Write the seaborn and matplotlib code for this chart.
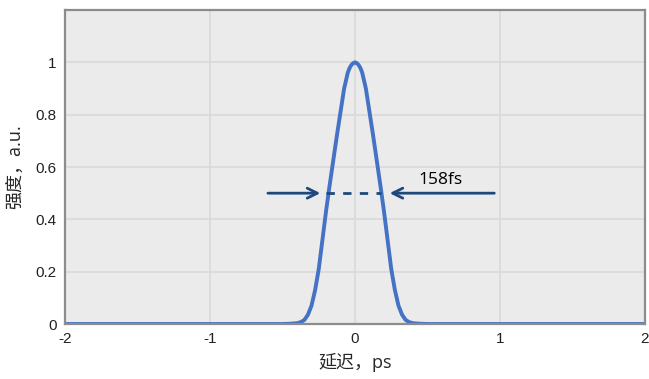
import numpy as np
import pandas as pd
import matplotlib.pyplot as plt
import seaborn as sns

# delay (ps) and normalised intensity (symmetric about 0)
half_delay = [0.0, 0.0125, 0.025, 0.0375, 0.05, 0.075, 0.1, 0.125, 0.15, 0.175, 0.2, 0.225,
              0.25, 0.275, 0.3, 0.325, 0.35, 0.375, 0.4, 0.45, 0.5, 1.0, 2.0]
half_intensity = [1.0, 0.997, 0.99, 0.978, 0.96, 0.90, 0.81, 0.72, 0.625, 0.53, 0.43, 0.32,
                  0.21, 0.13, 0.07, 0.035, 0.015, 0.007, 0.003, 0.001, 0.0, 0.0, 0.0]

delay = [-d for d in half_delay[:0:-1]] + half_delay
intensity = half_intensity[:0:-1] + half_intensity
df = pd.DataFrame({'delay': delay, 'intensity': intensity})

fwhm_label = '158fs'
fwhm_left, fwhm_right = -0.2, 0.18

x_ticks = [-2, -1, 0, 1, 2]
x_tick_labels = ['-2', '-1', '0', '1', '2']
y_ticks = [0, 0.2, 0.4, 0.6, 0.8, 1.0]
y_tick_labels = ['0', '0.2', '0.4', '0.6', '0.8', '1']

sns.set_theme(style="whitegrid")
plt.rcParams['font.family'] = ['Open Sans', 'Noto Sans CJK SC', 'DejaVu Sans']

fig = plt.figure(figsize=(6.49, 3.79), dpi=100)
ax = fig.add_axes([0.1002, 0.1451, 0.8936, 0.8285])
ax.set_facecolor('#ebebeb')

sns.lineplot(data=df, x='delay', y='intensity', ax=ax, color='#4472c4', linewidth=2.8)

# FWHM markers
arrow_kw = dict(arrowstyle='->', color='#1f497d', lw=2, mutation_scale=18)
ax.annotate('', xy=(fwhm_left - 0.02, 0.5), xytext=(-0.62, 0.5), arrowprops=arrow_kw)
ax.annotate('', xy=(fwhm_right + 0.04, 0.5), xytext=(0.98, 0.5), arrowprops=arrow_kw)
ax.plot([fwhm_left, fwhm_right], [0.5, 0.5], color='#1f497d', lw=2, ls=(0, (3, 3)))
ax.text(0.59, 0.55, fwhm_label, fontsize=12.5, ha='center', va='center', color='black')

ax.set_xlim(-2, 2)
ax.set_ylim(0, 1.2)
ax.tick_params(length=0, pad=6)
ax.set_xticks(x_ticks)
ax.set_xticklabels(x_tick_labels, fontsize=11, color='#222222', family='Liberation Sans')
ax.set_yticks(y_ticks)
ax.set_yticklabels(y_tick_labels, fontsize=11, color='#222222', family='Liberation Sans')
ax.grid(True, color='#d9d9d9', linewidth=1.2)
ax.set_xlabel('延迟，ps', fontsize=13, labelpad=5)
ax.set_ylabel('强度，a.u.', fontsize=13, labelpad=8)
for s in ax.spines.values():
    s.set_color('#8c8c8c')
    s.set_linewidth(1.6)

fig.savefig('out.png', dpi=100)
